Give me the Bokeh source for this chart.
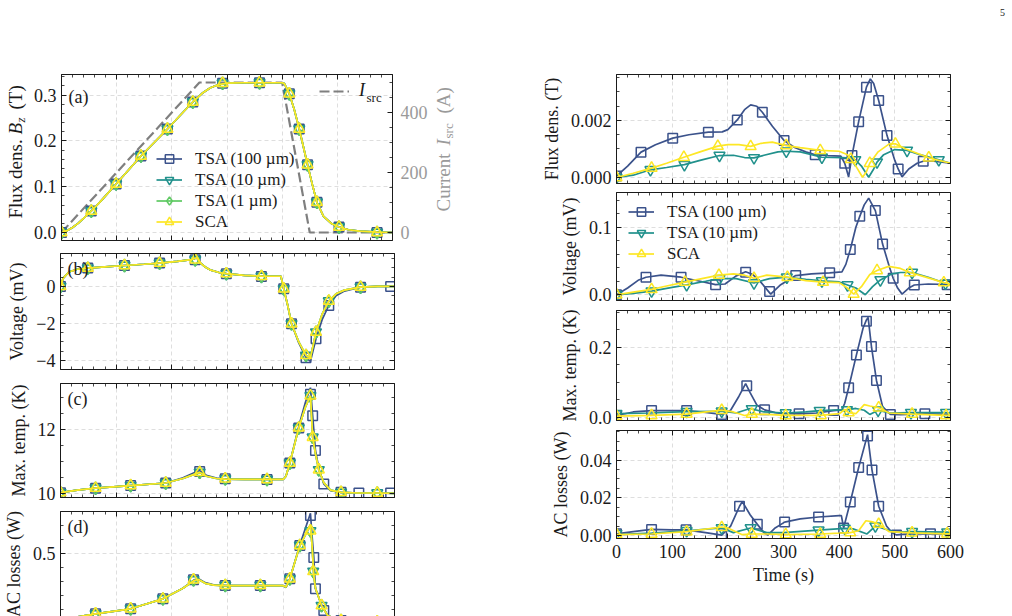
import math
from bokeh.plotting import figure
from bokeh.layouts import row, column
from bokeh.models import (Range1d, LinearAxis, FixedTicker, Legend, LegendItem,
                          Label, PrintfTickFormatter, Spacer)
from bokeh.embed import file_html
from bokeh.resources import INLINE

# ---------------------------------------------------------------- data
SERIES_NAMES = ["TSA (100 µm)", "TSA (10 µm)", "TSA (1 µm)", "SCA"]

X_TICKS = [0, 100, 200, 300, 400, 500, 600]
X_TICK_LABELS = ["0", "100", "200", "300", "400", "500", "600"]

# source current (right axis of panel a)
ISRC_T = [0, 250, 400, 450, 600]
ISRC_A = [0, 500, 500, 0, 0]
ISRC_TICKS = [0, 200, 400]
ISRC_TICK_LABELS = ["0", "200", "400"]

# (a) flux density Bz (T) -- all four models overlap
A_T = [0, 10, 20, 30, 40, 54, 70, 99, 144, 192, 220, 238, 255, 270, 285, 300, 330,
       360, 400, 404, 413, 422, 431, 446, 455, 463, 475, 490, 503, 520, 540, 572, 600]
A_B = [0.0, 0.004, 0.011, 0.02, 0.031, 0.047, 0.067, 0.106, 0.167, 0.226, 0.262,
       0.285, 0.304, 0.316, 0.323, 0.326, 0.327, 0.327, 0.327, 0.325, 0.303, 0.268,
       0.226, 0.148, 0.103, 0.066, 0.035, 0.019, 0.012, 0.006, 0.003, 0.001, 0.0]
A_MT = [0, 54, 99, 144, 192, 238, 292, 359, 413, 431, 446, 463, 503, 572]
A_MB = [0.0, 0.047, 0.106, 0.167, 0.226, 0.285, 0.326, 0.327, 0.303, 0.226, 0.148,
        0.066, 0.012, 0.0]
A_TICKS = [0.0, 0.1, 0.2, 0.3]
A_TICK_LABELS = ["0.0", "0.1", "0.2", "0.3"]

# (b) voltage (mV)
B_T = [0, 5, 15, 30, 49, 80, 115, 150, 178, 210, 235, 245, 250, 260, 270, 285, 298,
       330, 361, 396, 401, 408, 415, 428, 441, 449, 459, 470, 482, 495, 510, 539, 570, 600]
B_V = [0.0, 0.45, 0.78, 0.93, 0.99, 1.06, 1.13, 1.2, 1.26, 1.35, 1.45, 1.55, 1.3, 1.05,
       0.88, 0.75, 0.69, 0.6, 0.56, 0.55, -0.13, -1.0, -2.02, -3.0, -3.73, -3.85, -2.47,
       -1.5, -0.79, -0.4, -0.2, -0.04, 0.0, 0.0]
B_V100 = [0.0, 0.45, 0.78, 0.93, 0.99, 1.06, 1.13, 1.2, 1.26, 1.35, 1.45, 1.55, 1.3, 1.05,
          0.88, 0.75, 0.69, 0.6, 0.56, 0.55, -0.13, -1.0, -2.02, -3.05, -3.85, -4.05, -2.83,
          -1.8, -1.03, -0.5, -0.25, -0.04, 0.0, 0.0]
B_MT = [0, 49, 115, 178, 242, 298, 361, 401, 415, 441, 459, 482, 539]
B_MV = [0.0, 0.99, 1.13, 1.26, 1.44, 0.69, 0.54, -0.13, -2.02, -3.73, -2.47, -0.79, -0.04]
B_MT100 = [0, 49, 115, 178, 242, 298, 361, 401, 415, 441, 459, 482, 539, 593]
B_MV100 = [0.0, 0.99, 1.13, 1.26, 1.44, 0.69, 0.54, -0.13, -2.02, -3.85, -2.83, -1.03,
           -0.04, 0.0]
B_TICKS = [-4, -2, 0]
B_TICK_LABELS = ["\u22124", "\u22122", "0"]

# (c) maximum temperature (K)
C_T = [0, 30, 63, 126, 189, 220, 245, 250, 262, 280, 296, 330, 371, 400, 405, 412, 428,
       440, 449, 453, 458, 464, 473, 485, 504, 536, 569, 600]
C_K = [10.04, 10.12, 10.18, 10.26, 10.34, 10.48, 10.64, 10.67, 10.55, 10.48, 10.46,
       10.45, 10.45, 10.45, 10.55, 10.96, 12.05, 12.7, 13.05, 11.76, 11.25, 10.75, 10.35,
       10.12, 10.05, 10.03, 10.03, 10.02]
C_K100 = [10.04, 10.12, 10.18, 10.26, 10.34, 10.5, 10.7, 10.72, 10.58, 10.49, 10.46,
          10.45, 10.45, 10.45, 10.55, 10.96, 12.1, 12.85, 13.3, 12.43, 11.35, 10.8, 10.31,
          10.1, 10.05, 10.03, 10.03, 10.02]
C_MT = [0, 63, 126, 189, 250, 296, 371, 412, 428, 449, 453, 464, 504, 569]
C_MK = [10.04, 10.18, 10.26, 10.34, 10.67, 10.47, 10.45, 10.96, 12.05, 13.05, 11.76,
        10.75, 10.05, 10.03]
C_MT100 = [0, 63, 126, 189, 250, 296, 371, 412, 428, 449, 453, 458, 473, 504, 536, 593]
C_MK100 = [10.04, 10.18, 10.26, 10.34, 10.7, 10.47, 10.45, 10.96, 12.05, 13.1, 12.43,
           11.35, 10.31, 10.05, 10.03, 10.03]
C_TICKS = [10, 12]
C_TICK_LABELS = ["10", "12"]

# (d) AC losses (W)
D_T = [0, 30, 63, 126, 184, 220, 240, 248, 260, 275, 296, 359, 400, 405, 412, 430, 449,
       452, 455, 458, 469, 480, 495, 520, 560, 600]
D_W = [0.0, 0.045, 0.067, 0.103, 0.174, 0.25, 0.305, 0.312, 0.285, 0.272, 0.268, 0.268,
       0.268, 0.258, 0.317, 0.555, 0.70, 0.55, 0.34, 0.25, 0.126, 0.055, 0.03, 0.015,
       0.01, 0.01]
D_W100 = [0.0, 0.045, 0.067, 0.103, 0.174, 0.25, 0.31, 0.318, 0.29, 0.274, 0.268, 0.268,
          0.268, 0.255, 0.317, 0.56, 0.785, 0.62, 0.47, 0.246, 0.13, 0.055, 0.03, 0.015,
          0.01, 0.01]
D_MT = [0, 63, 126, 184, 239, 296, 359, 412, 430, 449, 454, 469, 504, 569]
D_MW = [0.0, 0.067, 0.103, 0.174, 0.31, 0.27, 0.27, 0.317, 0.555, 0.66, 0.37, 0.126,
        0.02, 0.01]
D_MT100 = [0, 63, 126, 184, 239, 296, 359, 412, 430, 449, 455, 458, 473, 504, 536, 593]
D_MW100 = [0.0, 0.067, 0.103, 0.174, 0.31, 0.27, 0.27, 0.317, 0.555, 0.77, 0.47, 0.246,
           0.09, 0.02, 0.01, 0.01]
D_TICKS = [0.0, 0.5]
D_TICK_LABELS = ["0.0", "0.5"]

# right column, row 1: flux density (T)
R1_T100 = [0, 20, 44, 70, 101, 130, 165, 190, 200, 217, 230, 241, 252, 262, 280, 301,
           320, 340, 357, 380, 403, 410, 417, 423, 435, 449, 456, 462, 471, 486, 500,
           506, 513, 525, 540, 551, 570, 600]
R1_V100 = [0.00005, 0.0004, 0.00089, 0.00115, 0.00138, 0.0015, 0.00159, 0.0016,
           0.00168, 0.00202, 0.00238, 0.00255, 0.0025, 0.00229, 0.0018, 0.0013,
           0.00105, 0.0009, 0.0008, 0.00077, 0.00075, 0.0005, 0.00002, 0.00077,
           0.00196, 0.00317, 0.00346, 0.0033, 0.0027, 0.00147, 0.0006, 0.0003,
           0.00002, 0.0003, 0.0005, 0.00057, 0.00057, 0.0005]
R1_MT100 = [0, 44, 101, 165, 217, 262, 301, 357, 410, 423, 435, 449, 471, 486, 506, 551]
R1_MV100 = [0.00005, 0.00089, 0.00138, 0.00159, 0.00202, 0.00229, 0.0013, 0.0008,
            0.0005, 0.00077, 0.00196, 0.00317, 0.0027, 0.00147, 0.0003, 0.00057]
R1_T10 = [0, 30, 61, 90, 122, 150, 185, 210, 230, 247, 265, 290, 305, 330, 369, 405,
          420, 429, 440, 453, 462, 468, 480, 500, 522, 545, 579, 600]
R1_V10 = [0.0, 0.00008, 0.00027, 0.00035, 0.00045, 0.0006, 0.00077, 0.00078, 0.0007,
          0.00069, 0.00078, 0.0009, 0.00092, 0.0009, 0.00071, 0.0007, 0.00068, 0.00062,
          0.0004, 0.00001, 0.0003, 0.00054, 0.0008, 0.00098, 0.00095, 0.0008, 0.00062,
          0.0005]
R1_MT10 = [0, 61, 122, 185, 247, 305, 369, 429, 468, 522, 579]
R1_MV10 = [0.0, 0.00027, 0.00045, 0.00077, 0.00069, 0.00092, 0.00071, 0.00062,
           0.00054, 0.00095, 0.00062]
R1_TSC = [0, 30, 63, 90, 121, 150, 182, 200, 220, 241, 260, 280, 305, 330, 366, 400,
          415, 421, 430, 442, 449, 455, 470, 490, 501, 520, 561, 600]
R1_VSC = [0.0, 0.00015, 0.00033, 0.0005, 0.00071, 0.0009, 0.0011, 0.00115, 0.00115,
          0.00109, 0.0012, 0.00124, 0.00112, 0.00105, 0.00095, 0.00092, 0.0008,
          0.00064, 0.0004, 0.00001, 0.0002, 0.0005, 0.0009, 0.00118, 0.00118, 0.001,
          0.00069, 0.0005]
R1_MTSC = [0, 63, 121, 182, 241, 305, 366, 421, 455, 501, 561]
R1_MVSC = [0.0, 0.00033, 0.00071, 0.0011, 0.00109, 0.00112, 0.00095, 0.00064, 0.0005,
           0.00118, 0.00069]
R1_TICKS = [0.0, 0.002]
R1_TICK_LABELS = ["0.000", "0.002"]

# right column, row 2: voltage (mV)
R2_T100 = [0, 20, 40, 53, 80, 116, 150, 178, 195, 215, 232, 245, 260, 277, 295, 322,
           350, 383, 405, 412, 420, 430, 437, 445, 453, 465, 478, 490, 497, 505, 513,
           525, 535, 560, 600]
R2_V100 = [0.0, 0.01, 0.022, 0.026, 0.029, 0.026, 0.02, 0.015, 0.016, 0.028, 0.034,
           0.03, 0.018, 0.001, 0.015, 0.0285, 0.031, 0.0325, 0.034, 0.045, 0.067, 0.1,
           0.116, 0.133, 0.143, 0.1245, 0.075, 0.042, 0.0245, 0.01, 0.001, 0.01,
           0.0145, 0.016, 0.015]
R2_MT100 = [0, 53, 116, 178, 232, 275, 322, 383, 420, 437, 465, 478, 497, 535, 594]
R2_MV100 = [0.0, 0.026, 0.026, 0.0148, 0.0334, 0.0049, 0.0285, 0.0325, 0.067, 0.116,
            0.1245, 0.075, 0.0245, 0.0145, 0.015]
R2_T10 = [0, 30, 63, 100, 126, 160, 185, 215, 247, 275, 306, 340, 369, 400, 415, 430,
          447, 460, 474, 495, 510, 531, 560, 591, 600]
R2_V10 = [0.0, 0.002, 0.0055, 0.011, 0.0148, 0.02, 0.024, 0.024, 0.0175, 0.024, 0.026,
          0.023, 0.0205, 0.019, 0.0145, 0.01, 0.0, 0.012, 0.022, 0.031, 0.033, 0.033,
          0.026, 0.017, 0.016]
R2_MT10 = [0, 63, 126, 185, 247, 306, 369, 415, 474, 531, 591]
R2_MV10 = [0.0, 0.0055, 0.0148, 0.024, 0.0175, 0.026, 0.0205, 0.0145, 0.022, 0.033,
           0.017]
R2_TSC = [0, 30, 63, 90, 123, 160, 184, 210, 230, 247, 270, 307, 340, 371, 400, 415,
          426, 440, 455, 468, 489, 510, 527, 560, 588, 600]
R2_VSC = [0.0, 0.004, 0.008, 0.013, 0.0187, 0.025, 0.029, 0.031, 0.029, 0.0245, 0.029,
          0.026, 0.021, 0.0187, 0.018, 0.01, 0.001, 0.012, 0.03, 0.036, 0.042, 0.039,
          0.033, 0.025, 0.018, 0.016]
R2_MTSC = [0, 63, 123, 184, 247, 307, 371, 426, 468, 527, 588]
R2_MVSC = [0.0, 0.008, 0.0187, 0.029, 0.0245, 0.026, 0.0187, 0.001, 0.036, 0.033, 0.018]
R2_TICKS = [0.0, 0.1]
R2_TICK_LABELS = ["0.0", "0.1"]

# right column, row 3: maximum temperature (K)
R3_T100 = [0, 30, 63, 100, 126, 160, 189, 205, 220, 232, 240, 252, 266, 285, 300, 328,
           360, 390, 405, 410, 417, 431, 443, 449, 452, 458, 467, 478, 492, 510, 554, 600]
R3_V100 = [0.005, 0.015, 0.019, 0.019, 0.019, 0.014, 0.0077, 0.02, 0.06, 0.096, 0.07,
           0.035, 0.021, 0.013, 0.01, 0.0097, 0.012, 0.019, 0.021, 0.04, 0.084, 0.178,
           0.255, 0.278, 0.285, 0.202, 0.105, 0.03, 0.0077, 0.007, 0.0097, 0.008]
R3_MT100 = [0, 63, 126, 189, 234, 266, 328, 390, 417, 431, 449, 458, 467, 492, 554]
R3_MV100 = [0.005, 0.019, 0.019, 0.0077, 0.09, 0.021, 0.0097, 0.019, 0.084, 0.178,
            0.274, 0.202, 0.105, 0.0077, 0.0097]
R3_T10 = [0, 60, 126, 189, 215, 240, 265, 304, 340, 365, 400, 414, 430, 445, 455, 470,
          490, 529, 592, 600]
R3_V10 = [0.01, 0.012, 0.016, 0.017, 0.012, 0.025, 0.015, 0.012, 0.015, 0.019, 0.021,
          0.021, 0.025, 0.02, 0.008, 0.02, 0.012, 0.013, 0.013, 0.012]
R3_MT10 = [0, 126, 189, 243, 304, 365, 414, 470, 529, 592]
R3_MV10 = [0.01, 0.016, 0.017, 0.024, 0.012, 0.019, 0.021, 0.02, 0.013, 0.013]
R3_TSC = [0, 63, 126, 189, 210, 230, 243, 270, 304, 367, 400, 410, 417, 430, 445, 455,
          471, 490, 531, 592, 600]
R3_VSC = [0.003, 0.005, 0.009, 0.02, 0.015, 0.005, 0.009, 0.008, 0.005, 0.005, 0.01,
          0.022, 0.013, 0.01, 0.036, 0.032, 0.027, 0.012, 0.009, 0.005, 0.005]
R3_MTSC = [0, 63, 126, 189, 243, 304, 367, 417, 471, 531, 592]
R3_MVSC = [0.003, 0.005, 0.009, 0.02, 0.009, 0.005, 0.005, 0.013, 0.027, 0.009, 0.005]
R3_TICKS = [0.0, 0.2]
R3_TICK_LABELS = ["0.0", "0.2"]

# right column, row 4: AC losses (W)
R4_T100 = [0, 30, 63, 100, 125, 160, 189, 205, 221, 226, 240, 253, 265, 272, 285, 302,
           330, 363, 400, 404, 408, 420, 435, 451, 459, 471, 485, 495, 503, 530, 564, 600]
R4_V100 = [0.0009, 0.002, 0.0032, 0.003, 0.003, 0.0015, 0.0002, 0.005, 0.0155, 0.018,
           0.011, 0.0059, 0.0015, 0.0002, 0.004, 0.0071, 0.0088, 0.0098, 0.0105, 0.0105,
           0.004, 0.0178, 0.0361, 0.0535, 0.0347, 0.0155, 0.005, 0.0015, 0.0003, 0.001,
           0.0009, 0.0009]
R4_MT100 = [0, 63, 125, 189, 221, 253, 302, 363, 408, 420, 435, 451, 459, 471, 503, 564]
R4_MV100 = [0.0009, 0.0032, 0.003, 0.0002, 0.0155, 0.0059, 0.0071, 0.0098, 0.004,
            0.0178, 0.0361, 0.0528, 0.0347, 0.0155, 0.0003, 0.0009]
R4_T10 = [0, 63, 126, 189, 210, 241, 270, 300, 363, 410, 425, 450, 465, 500, 531, 594, 600]
R4_V10 = [0.0005, 0.0012, 0.0025, 0.004, 0.0015, 0.004, 0.0015, 0.0015, 0.0028, 0.0038,
          0.0035, 0.0008, 0.005, 0.0018, 0.002, 0.0018, 0.0017]
R4_MT10 = [0, 126, 189, 241, 363, 410, 465, 531, 594]
R4_MV10 = [0.001, 0.0025, 0.004, 0.004, 0.0028, 0.0038, 0.005, 0.002, 0.0018]
R4_TSC = [0, 63, 126, 189, 200, 225, 243, 270, 304, 366, 400, 420, 435, 448, 460, 471,
          490, 531, 594, 600]
R4_VSC = [0.0005, 0.0008, 0.002, 0.0045, 0.004, 0.0005, 0.0008, 0.0008, 0.0005, 0.0008,
          0.0012, 0.0015, 0.0025, 0.0078, 0.0072, 0.006, 0.002, 0.0014, 0.0009, 0.0009]
R4_MTSC = [0, 63, 126, 189, 243, 304, 366, 420, 471, 531, 594]
R4_MVSC = [0.0005, 0.0008, 0.002, 0.0043, 0.0008, 0.0005, 0.0008, 0.0015, 0.006,
           0.0014, 0.0009]
R4_TICKS = [0.0, 0.02, 0.04]
R4_TICK_LABELS = ["0.00", "0.02", "0.04"]

# ---------------------------------------------------------------- style
FONT = "Liberation Serif"
FS = "18px"
FS_TITLE = "19px"
SUB = "13px"
INK = "#1a1a1a"
GREY = "#7f7f7f"
GREY_TEXT = "#9a9a9a"
COLORS = ["#3B528B", "#21918C", "#5EC962", "#FDE725"]
MARKERS = [("square", 9.5), ("inverted_triangle", 11), ("diamond", 12.5), ("triangle", 11)]
UP = math.pi / 2


def steps(lo, hi, step):
    n = int(round((hi - lo) / step))
    return [round(lo + i * step, 9) for i in range(n + 1)]


def style_axis(ax, ticks, labels, minor, fmt, show=True, label_color=INK, standoff=5):
    ax.ticker = FixedTicker(ticks=list(ticks), minor_ticks=list(minor))
    ax.formatter = PrintfTickFormatter(format=fmt)
    ax.axis_line_color = INK
    ax.axis_line_width = 1
    ax.major_tick_line_color = INK
    ax.minor_tick_line_color = INK
    ax.major_tick_line_width = 1
    ax.minor_tick_line_width = 0.8
    ax.major_tick_in = 5
    ax.major_tick_out = 0
    ax.minor_tick_in = 3
    ax.minor_tick_out = 0
    ax.major_label_text_font = FONT
    ax.major_label_text_color = label_color
    ax.axis_label_text_font = FONT
    ax.axis_label_text_font_style = "normal"
    ax.axis_label_text_font_size = FS
    ax.axis_label_text_color = INK
    ax.axis_label_standoff = 6
    if show:
        ax.major_label_overrides = {t: s for t, s in zip(ticks, labels)}
        ax.major_label_text_font_size = FS
        ax.major_label_standoff = standoff
    else:
        ax.major_label_overrides = {t: "" for t in ticks}
        ax.major_label_text_font_size = "0px"
        ax.major_label_standoff = 0


def make_panel(width, height, borders, y_lim, y_ticks, y_labels, y_minor, y_fmt,
               x_labels=False, bottom_axis=True, right_axis=True):
    bl, br, bt, bb = borders
    p = figure(width=width, height=height, x_range=Range1d(0, 600),
               y_range=Range1d(*y_lim),
               x_axis_location="below" if bottom_axis else None,
               y_axis_location="left",
               min_border_left=bl, min_border_right=br,
               min_border_top=bt, min_border_bottom=bb,
               output_backend="svg", toolbar_location=None)
    p.outline_line_color = None
    p.background_fill_color = "white"
    p.border_fill_color = "white"
    x_minor = steps(0, 600, 20)
    if bottom_axis:
        style_axis(p.below[0], X_TICKS, X_TICK_LABELS, x_minor, "%d",
                   show=x_labels, standoff=6)
    top = LinearAxis()
    style_axis(top, X_TICKS, X_TICK_LABELS, x_minor, "%d", show=False)
    p.add_layout(top, "above")
    style_axis(p.left[0], y_ticks, y_labels, y_minor, y_fmt)
    if right_axis:
        rax = LinearAxis()
        style_axis(rax, y_ticks, y_labels, y_minor, y_fmt, show=False)
        p.add_layout(rax, "right")
    p.xgrid.ticker = FixedTicker(ticks=X_TICKS)
    p.ygrid.ticker = FixedTicker(ticks=list(y_ticks))
    for g in (p.xgrid, p.ygrid):
        g.grid_line_color = "#d6d6d6"
        g.grid_line_dash = "4 3"
        g.grid_line_width = 0.8
    return p


def text_strip(width, height):
    """Blank canvas used to hold free-standing text around the panels."""
    p = figure(width=width, height=height, x_range=Range1d(0, width),
               y_range=Range1d(0, height), x_axis_location=None, y_axis_location=None,
               min_border=0, output_backend="svg", toolbar_location=None)
    p.outline_line_color = None
    p.background_fill_color = "white"
    p.border_fill_color = "white"
    p.xgrid.visible = False
    p.ygrid.visible = False
    return p


def add_series(p, t, v, mt, mv, idx):
    color = COLORS[idx]
    marker, size = MARKERS[idx]
    ln = p.line(t, v, line_color=color, line_width=1.7)
    sc = p.scatter(mt, mv, marker=marker, size=size, fill_color=None,
                   line_color=color, line_width=1.5)
    return [ln, sc]


def add_legend(p, entries, loc):
    leg = Legend(items=[LegendItem(label=lab, renderers=rs) for lab, rs in entries],
                 location=loc, orientation="vertical")
    leg.padding = 0
    leg.margin = 0
    leg.spacing = 0
    leg.glyph_width = 26
    leg.glyph_height = 21
    leg.label_height = 21
    leg.label_standoff = 13
    leg.border_line_color = None
    leg.background_fill_alpha = 0
    leg.label_text_font = FONT
    leg.label_text_font_size = "17px"
    leg.label_text_color = INK
    p.add_layout(leg)
    return leg


def text(p, x, y, s, size=FS, angle=0.0, style="normal", color=INK,
         align="left", baseline="middle"):
    p.add_layout(Label(x=x, y=y, x_units="screen", y_units="screen", text=s,
                       angle=angle, text_font=FONT, text_font_size=size,
                       text_font_style=style, text_color=color,
                       text_align=align, text_baseline=baseline))


def panel_tag(p, tag, frame_h, dy):
    text(p, 7, frame_h - dy, tag, baseline="top")


# ---------------------------------------------------------------- left column
LB = (60, 76)

pa = make_panel(400, 246, (30, 36, 74, 6), (-0.01747, 0.345), A_TICKS, A_TICK_LABELS,
                steps(0, 0.34, 0.02), "%.1f", right_axis=False)
pa.extra_y_ranges = {"cur": Range1d(-26.7, 526.7)}
cur_ax = LinearAxis(y_range_name="cur")
style_axis(cur_ax, ISRC_TICKS, ISRC_TICK_LABELS, steps(0, 500, 50), "%d",
           label_color=GREY_TEXT, standoff=8)
pa.add_layout(cur_ax, "right")
isrc = pa.line(ISRC_T, ISRC_A, y_range_name="cur", line_color=GREY, line_width=2.2,
               line_dash="10 4")
a_r = [add_series(pa, A_T, A_B, A_MT, A_MB, i) for i in range(4)]
add_legend(pa, list(zip(SERIES_NAMES, a_r)), (95, 8))
leg_i = Legend(items=[LegendItem(label="I", renderers=[isrc])], location=(258, 139))
leg_i.padding = 0
leg_i.margin = 0
leg_i.glyph_width = 30
leg_i.glyph_height = 18
leg_i.label_height = 18
leg_i.label_standoff = 10
leg_i.border_line_color = None
leg_i.background_fill_alpha = 0
leg_i.label_text_font = FONT
leg_i.label_text_font_size = FS
leg_i.label_text_font_style = "italic"
leg_i.label_text_color = INK
pa.add_layout(leg_i)
text(pa, 305, 143, "src", size=SUB)
panel_tag(pa, "(a)", 166, 12)

# left axis title of panel (a), with subscript
ya = text_strip(30, 246)
text(ya, 15, 22, "Flux dens.", size=FS_TITLE, angle=UP)
text(ya, 15, 106, "B", size=FS_TITLE, angle=UP, style="italic")
text(ya, 20, 118, "z", size=SUB, angle=UP, style="italic")
text(ya, 15, 131, "(T)", size=FS_TITLE, angle=UP)

# title of the current axis, with subscript
yc = text_strip(40, 246)
text(yc, 13, 29, "Current", size=FS_TITLE, angle=UP, color=GREY_TEXT)
text(yc, 13, 95, "I", size=FS_TITLE, angle=UP, style="italic", color=GREY_TEXT)
text(yc, 18, 102, "src", size=SUB, angle=UP, color=GREY_TEXT)
text(yc, 13, 127, "(A)", size=FS_TITLE, angle=UP, color=GREY_TEXT)

LW = 470
pb = make_panel(LW, 130, LB + (7, 7), (-4.49, 1.78), B_TICKS, B_TICK_LABELS,
                steps(-4.5, 2.0, 0.5), "%d")
pb.left[0].axis_label = "Voltage (mV)"
add_series(pb, B_T, B_V100, B_MT100, B_MV100, 0)
for i in (1, 2, 3):
    add_series(pb, B_T, B_V, B_MT, B_MV, i)
panel_tag(pb, "(b)", 116, 5)

pc = make_panel(LW, 128, LB + (7, 7), (9.89, 13.43), C_TICKS, C_TICK_LABELS,
                steps(9.5, 13.5, 0.5), "%d")
pc.left[0].axis_label = "Max. temp. (K)"
add_series(pc, C_T, C_K100, C_MT100, C_MK100, 0)
for i in (1, 2, 3):
    add_series(pc, C_T, C_K, C_MT, C_MK, i)
panel_tag(pc, "(c)", 114, 5)

pd = make_panel(LW, 112, LB + (7, 0), (0.048, 0.798), D_TICKS, D_TICK_LABELS,
                steps(0.0, 0.8, 0.1), "%.1f", bottom_axis=False)
pd.left[0].axis_label = "AC losses (W)"
add_series(pd, D_T, D_W100, D_MT100, D_MW100, 0)
for i in (1, 2, 3):
    add_series(pd, D_T, D_W, D_MT, D_MW, i)
panel_tag(pd, "(d)", 105, 5)

# ---------------------------------------------------------------- right column
RW = 542
RB = (146, 62)

folio = text_strip(60, 30)
text(folio, 50, 18, "5", size="10px", align="center")
top_strip = row(Spacer(width=RW - 60, height=30), folio)

r1 = make_panel(RW, 158, RB + (44, 5), (-0.000211, 0.003614), R1_TICKS, R1_TICK_LABELS,
                steps(0.0, 0.0035, 0.0005), "%.3f")
r1.left[0].axis_label = "Flux dens. (T)"
add_series(r1, R1_T100, R1_V100, R1_MT100, R1_MV100, 0)
add_series(r1, R1_T10, R1_V10, R1_MT10, R1_MV10, 1)
add_series(r1, R1_TSC, R1_VSC, R1_MTSC, R1_MVSC, 3)

r2 = make_panel(RW, 117, RB + (4, 5), (-0.00843, 0.1513), R2_TICKS, R2_TICK_LABELS,
                steps(0.0, 0.14, 0.02), "%.1f")
r2.left[0].axis_label = "Voltage (mV)"
s0 = add_series(r2, R2_T100, R2_V100, R2_MT100, R2_MV100, 0)
s1 = add_series(r2, R2_T10, R2_V10, R2_MT10, R2_MV10, 1)
s3 = add_series(r2, R2_TSC, R2_VSC, R2_MTSC, R2_MVSC, 3)
add_legend(r2, [(SERIES_NAMES[0], s0), (SERIES_NAMES[1], s1), (SERIES_NAMES[3], s3)],
           (12, 36))

r3 = make_panel(RW, 122, RB + (5, 7), (-0.0094, 0.3049), R3_TICKS, R3_TICK_LABELS,
                steps(0.0, 0.3, 0.05), "%.1f")
r3.left[0].axis_label = "Max. temp. (K)"
add_series(r3, R3_T100, R3_V100, R3_MT100, R3_MV100, 0)
add_series(r3, R3_T10, R3_V10, R3_MT10, R3_MV10, 1)
add_series(r3, R3_TSC, R3_VSC, R3_MTSC, R3_MVSC, 3)

r4 = make_panel(RW, 189, RB + (3, 78), (-0.0016, 0.0557), R4_TICKS, R4_TICK_LABELS,
                steps(0.0, 0.055, 0.005), "%.2f", x_labels=True)
r4.left[0].axis_label = "AC losses (W)"
r4.below[0].axis_label = "Time (s)"
r4.below[0].axis_label_standoff = 4
add_series(r4, R4_T100, R4_V100, R4_MT100, R4_MV100, 0)
add_series(r4, R4_T10, R4_V10, R4_MT10, R4_MV10, 1)
add_series(r4, R4_TSC, R4_VSC, R4_MTSC, R4_MVSC, 3)

left_col = column(row(ya, pa, yc), pb, pc, pd)
right_col = column(top_strip, r1, r2, r3, r4)
layout = row(left_col, right_col)
open("out.html", "w").write(file_html(layout, INLINE, title="AC losses"))
